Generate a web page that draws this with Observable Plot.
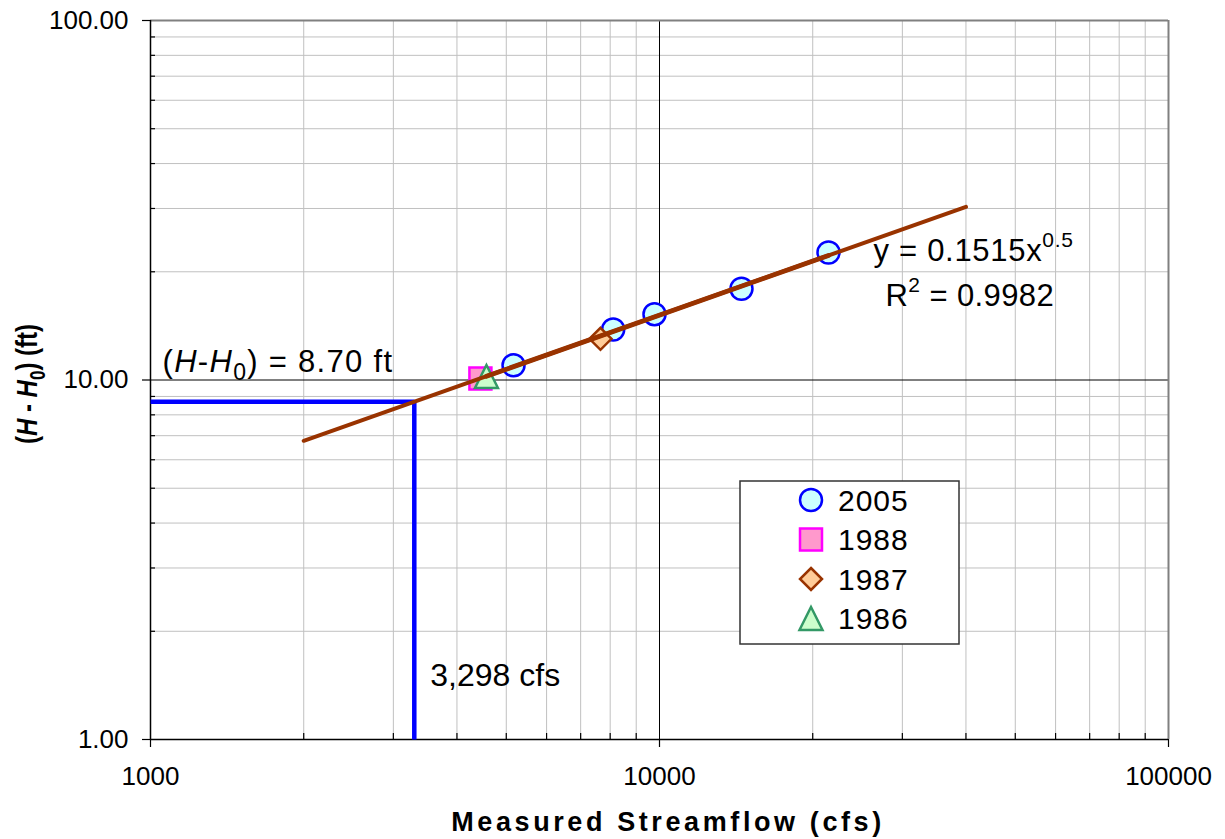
<!DOCTYPE html>
<html>
<head>
<meta charset="utf-8">
<script src="https://cdn.jsdelivr.net/npm/d3@7"></script>
<script src="https://cdn.jsdelivr.net/npm/@observablehq/plot@0.6"></script>
<style>
  body { margin: 0; background: #fff; }
  #chart svg { display: block; }
</style>
</head>
<body>
<div id="chart"></div>
<script>
// Stage-discharge rating: measured streamflow vs. head above gage datum
const flow2005 = [5167, 8110, 9776, 14490, 21480];
const head2005 = [10.99, 13.82, 15.24, 17.94, 22.63];
const flow1988 = [4448];
const head1988 = [10.10];
const flow1987 = [7657];
const head1987 = [13.02];
const flow1986 = [4571];
const head1986 = [10.23];

// Power-law fit  H - H0 = a * Q^b
const fitCoef = 0.1515;
const fitExp = 0.5;
const fitR2 = 0.9982;
const fitRange = [2000, 40000];     // extent of the drawn trend line
const dataRange = [4571, 21480];    // extent of the measured data

// Discharge for the target head
const targetFlow = 3298;
const targetHead = 8.70;

// Axis ticks
const xTicks = [1000, 10000, 100000];
const yTicks = [1, 10, 100];
const xMinor = [2, 3, 4, 5, 6, 7, 8, 9].flatMap(k => [k * 1000, k * 10000]);
const yMinor = [2, 3, 4, 5, 6, 7, 8, 9].flatMap(k => [k, k * 10]);

const legendYears = ["2005", "1988", "1987", "1986"];

const FONT = "'Liberation Sans', Arial, Helvetica, sans-serif";
const BROWN = "#993300";

// Marker shapes, sized so that r is the half-width of each shape
const half = size => Math.sqrt(size / Math.PI);
const shapes = {
  circle: { draw(ctx, size) { const r = half(size); ctx.moveTo(r, 0); ctx.arc(0, 0, r, 0, 2 * Math.PI); } },
  square: { draw(ctx, size) { const r = half(size); ctx.rect(-r, -r, 2 * r, 2 * r); } },
  diamond: { draw(ctx, size) { const r = half(size); ctx.moveTo(0, -r); ctx.lineTo(r, 0); ctx.lineTo(0, r); ctx.lineTo(-r, 0); ctx.closePath(); } },
  triangle: { draw(ctx, size) { const r = half(size); ctx.moveTo(0, -r); ctx.lineTo(r, r); ctx.lineTo(-r, r); ctx.closePath(); } }
};
const series = {
  "2005": { shape: shapes.circle, r: 11, fill: "#ccffff", stroke: "#0000ff" },
  "1988": { shape: shapes.square, r: 11, fill: "#ff99cc", stroke: "#ff00ff" },
  "1987": { shape: shapes.diamond, r: 11, fill: "#ffcc99", stroke: BROWN },
  "1986": { shape: shapes.triangle, r: 11.5, fill: "#ccffcc", stroke: "#339966" }
};

const toRows = (qs, hs) => qs.map((q, i) => ({ q, h: hs[i] }));
const pts2005 = toRows(flow2005, head2005);
const pts1988 = toRows(flow1988, head1988);
const pts1987 = toRows(flow1987, head1987);
const pts1986 = toRows(flow1986, head1986);

const fitRows = ext => ext.map(q => ({ q, h: fitCoef * Math.pow(q, fitExp) }));
const guide = [
  { q: xTicks[0], h: targetHead },
  { q: targetFlow, h: targetHead },
  { q: targetFlow, h: yTicks[0] }
];

const dotMark = (rows, key) => Plot.dot(rows, {
  x: "q", y: "h", symbol: series[key].shape, r: series[key].r,
  fill: series[key].fill, stroke: series[key].stroke, strokeWidth: 2.5
});

const headText = "(H-H0) = " + d3.format(".2f")(targetHead) + " ft";
const eqText = "y = " + fitCoef.toFixed(4) + "x" + fitExp;
const r2Text = "R2 = " + fitR2.toFixed(4);

const plot = Plot.plot({
  width: 1225,
  height: 839,
  marginLeft: 150,
  marginRight: 57,
  marginTop: 20,
  marginBottom: 100,
  x: { type: "log", domain: [xTicks[0], xTicks[2]] },
  y: { type: "log", domain: [yTicks[0], yTicks[2]] },
  style: { fontFamily: FONT, fontSize: "26px", background: "#fff", color: "#000", overflow: "visible" },
  marks: [
    // gridlines
    Plot.ruleX(xMinor, { stroke: "#c0c0c0", strokeWidth: 1 }),
    Plot.ruleY(yMinor, { stroke: "#c0c0c0", strokeWidth: 1 }),
    Plot.ruleX([xTicks[1]], { stroke: "#000", strokeWidth: 1 }),
    Plot.ruleY([yTicks[1]], { stroke: "#000", strokeWidth: 1 }),
    // outer frame (top/right) and axis lines (left/bottom)
    Plot.ruleY([yTicks[2]], { stroke: "#808080", strokeWidth: 2 }),
    Plot.ruleX([xTicks[2]], { stroke: "#808080", strokeWidth: 2 }),
    Plot.ruleX([xTicks[0]], { stroke: "#000", strokeWidth: 1.5 }),
    Plot.ruleY([yTicks[0]], { stroke: "#000", strokeWidth: 1.5 }),
    // minor ticks pointing inward, major ticks outward
    Plot.ruleX(xMinor, { y1: yTicks[0], y2: yTicks[0], insetBottom: 6, stroke: "#000", strokeWidth: 1.2 }),
    Plot.ruleY(yMinor, { x1: xTicks[0], x2: xTicks[0], insetRight: -5, stroke: "#000", strokeWidth: 1.2 }),
    Plot.ruleX(xTicks, { y1: yTicks[0], y2: yTicks[0], insetTop: 8, stroke: "#000", strokeWidth: 1.2 }),
    Plot.ruleY(yTicks, { x1: xTicks[0], x2: xTicks[0], insetLeft: -8, stroke: "#000", strokeWidth: 1.2 }),
    Plot.axisX({ ticks: xTicks, tickSize: 0, tickPadding: 27, tickFormat: d => String(d), label: null, fontSize: 26 }),
    Plot.axisY({ ticks: yTicks, tickSize: 0, tickPadding: 22, tickFormat: d3.format(".2f"), label: null, fontSize: 26 }),
    // target discharge
    Plot.line(guide, { x: "q", y: "h", stroke: "#0000ff", strokeWidth: 4.5, strokeLinejoin: "miter", strokeLinecap: "butt" }),
    // measurements
    dotMark(pts2005, "2005"),
    dotMark(pts1988, "1988"),
    dotMark(pts1987, "1987"),
    dotMark(pts1986, "1986"),
    // power-law trend
    Plot.line(fitRows(fitRange), { x: "q", y: "h", stroke: BROWN, strokeWidth: 4 }),
    Plot.line(fitRows(dataRange), { x: "q", y: "h", stroke: BROWN, strokeWidth: 4.8 }),
    // annotations
    Plot.text([{ q: xTicks[0], h: targetHead }], {
      x: "q", y: "h", text: () => headText, dx: 12, dy: -40, textAnchor: "start",
      fontSize: 31, className: "lbl-head"
    }),
    Plot.text([{ q: targetFlow, h: yTicks[0] }], {
      x: "q", y: "h", text: d => d3.format(",")(d.q) + " cfs", dx: 16, dy: -64, textAnchor: "start",
      fontSize: 32
    }),
    Plot.text([eqText], {
      frameAnchor: "top-left", lineAnchor: "middle", text: d => d, dx: 723, dy: 231, textAnchor: "start",
      fontSize: 31, className: "lbl-eq"
    }),
    Plot.text([r2Text], {
      frameAnchor: "top-left", lineAnchor: "middle", text: d => d, dx: 735, dy: 276, textAnchor: "start",
      fontSize: 31, className: "lbl-r2"
    })
  ]
});

const svg = d3.select(plot);

// Rich text: italics, subscripts and superscripts
const head = svg.select(".lbl-head text").text(null).attr("letter-spacing", "1.3px");
head.append("tspan").text("(");
head.append("tspan").attr("font-style", "italic").text("H");
head.append("tspan").text("-");
head.append("tspan").attr("font-style", "italic").text("H");
head.append("tspan").attr("font-size", 23).attr("dy", 8).text("0");
head.append("tspan").attr("dy", -8).text(") = " + d3.format(".2f")(targetHead) + " ft");

const eq = svg.select(".lbl-eq text").text(null).attr("letter-spacing", "0.7px");
eq.append("tspan").text("y = " + fitCoef.toFixed(4) + "x");
eq.append("tspan").attr("font-size", 21).attr("dy", -14).text(String(fitExp));

const r2 = svg.select(".lbl-r2 text").text(null).attr("letter-spacing", "0.4px");
r2.append("tspan").text("R");
r2.append("tspan").attr("font-size", 21).attr("dy", -14).text("2");
r2.append("tspan").attr("dy", 14).text(" = " + fitR2.toFixed(4));

// Axis titles
svg.append("text")
  .attr("x", 668).attr("y", 831)
  .attr("text-anchor", "middle")
  .attr("font-family", FONT).attr("font-weight", "bold").attr("font-size", 27)
  .attr("letter-spacing", "3.6px")
  .text("Measured Streamflow (cfs)");

const yt = svg.append("text")
  .attr("transform", "translate(37,384) scale(1.25,1) rotate(-90)")
  .attr("text-anchor", "middle")
  .attr("font-family", FONT).attr("font-weight", "bold").attr("font-size", 24);
yt.append("tspan").text("(");
yt.append("tspan").attr("font-style", "italic").text("H");
yt.append("tspan").text(" - ");
yt.append("tspan").attr("font-style", "italic").text("H");
yt.append("tspan").attr("font-size", 17).attr("dy", 6).text("0");
yt.append("tspan").attr("dy", -6).text(") (ft)");

// Legend
const lg = svg.append("g").attr("transform", "translate(740,481)")
  .attr("font-family", FONT).attr("text-anchor", "start");
lg.append("rect").attr("width", 219).attr("height", 163)
  .attr("fill", "#fff").attr("stroke", "#333").attr("stroke-width", 1.5);
legendYears.forEach((yr, i) => {
  const s = series[yr];
  const cy = 19 + i * 39.5;
  lg.append("path")
    .attr("transform", `translate(71,${cy})`)
    .attr("d", d3.symbol(s.shape, Math.PI * s.r * s.r)())
    .attr("fill", s.fill).attr("stroke", s.stroke).attr("stroke-width", 2.5);
  lg.append("text").attr("x", 98).attr("y", cy).attr("dy", "0.35em")
    .attr("text-anchor", "start").attr("letter-spacing", "1px")
    .attr("font-size", 30).text(yr);
});

document.getElementById("chart").appendChild(plot);
</script>
</body>
</html>
